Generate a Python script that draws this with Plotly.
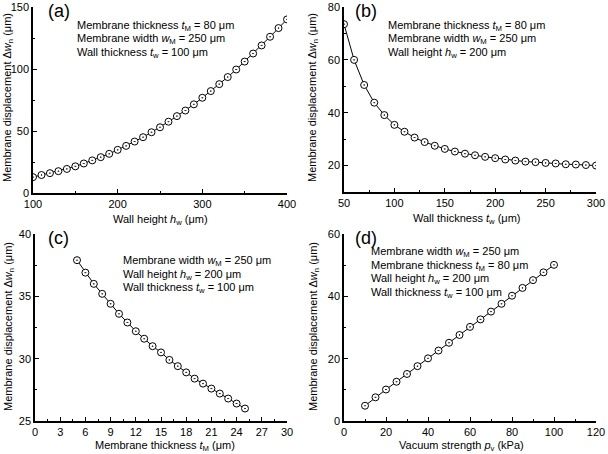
import plotly.graph_objects as go

# (a) wall height vs displacement
wall_height = list(range(100, 401, 10))
disp_a = [12.8, 14.5, 16.0, 17.6, 19.4, 21.5, 23.8, 26.3, 28.9, 31.6, 34.8,
          38.0, 41.5, 45.0, 49.0, 53.0, 57.5, 62.0, 66.5, 71.5, 76.8,
          82.2, 87.8, 93.5, 99.6, 106.0, 112.5, 119.0, 126.0, 133.0, 140.0]

# (b) wall thickness vs displacement
wall_thick = list(range(50, 301, 10))
disp_b = [73.5, 60.0, 50.5, 43.8, 39.1, 35.4, 32.8, 30.6, 28.9, 27.5, 26.3,
          25.3, 24.5, 23.9, 23.3, 22.8, 22.3, 21.9, 21.5, 21.3, 21.0,
          20.8, 20.5, 20.4, 20.2, 20.0]

# (c) membrane thickness vs displacement
memb_thick = list(range(5, 26))
disp_c = [37.9, 36.9, 36.0, 35.2, 34.4, 33.6, 32.9, 32.2, 31.6, 31.0, 30.5,
          29.9, 29.4, 28.9, 28.4, 28.0, 27.6, 27.2, 26.8, 26.4, 26.0]

# (d) vacuum strength vs displacement
vacuum = list(range(10, 101, 5))
disp_d = [4.9, 7.6, 10.1, 12.6, 15.1, 17.6, 20.1, 22.6, 25.1, 27.6, 30.2,
          32.6, 35.1, 37.6, 40.2, 42.7, 45.2, 47.7, 50.1]

W, H = 608, 454
FONT = "Liberation Sans, Arial, sans-serif"


def px_x(p):
    return p / W


def px_y(p):
    return 1 - p / H


panels = [
    # x, y, xdomain px, ydomain px, xrange, xdtick, yrange, ydtick
    (wall_height, disp_a, (33, 287), (7, 193), [100, 400], 100, [0, 150], 50),
    (wall_thick, disp_b, (344, 596), (7, 192), [50, 300], 50, [10, 80], 20),
    (memb_thick, disp_c, (35, 287), (234, 421), [0, 30], 3, [25, 40], 5),
    (vacuum, disp_d, (344, 596), (234, 421), [0, 120], 20, [0, 60], 20),
]

fig = go.Figure()
layout = {}
for i, (xs, ys, xd, yd, xr, xdt, yr, ydt) in enumerate(panels, start=1):
    sfx = "" if i == 1 else str(i)
    fig.add_trace(go.Scatter(
        x=xs, y=ys, mode="lines+markers",
        xaxis="x" + sfx, yaxis="y" + sfx,
        line=dict(color="black", width=1),
        marker=dict(symbol="circle-dot", size=7, color="white",
                    line=dict(color="black", width=1)),
        showlegend=False,
    ))
    common = dict(showline=True, linecolor="black", linewidth=1.5,
                  ticks="inside", ticklen=4, tickcolor="black",
                  showgrid=False, zeroline=False, automargin=False,
                  tickfont=dict(size=11, color="black", family=FONT))
    layout["xaxis" + sfx] = dict(
        domain=[px_x(xd[0]), px_x(xd[1])], range=xr, dtick=xdt, tick0=0,
        anchor="y" + sfx,
        minor=dict(ticks="inside", ticklen=2.5, dtick=xdt / 2, tick0=0,
                   tickcolor="black", showgrid=False),
        **common)
    layout["yaxis" + sfx] = dict(
        domain=[px_y(yd[1]), px_y(yd[0])], range=yr, dtick=ydt, tick0=0,
        anchor="x" + sfx,
        minor=dict(ticks="inside", ticklen=2.5, dtick=ydt / 2, tick0=0,
                   tickcolor="black", showgrid=False),
        **common)

fig.update_layout(**layout)

ytitle = "Membrane displacement Δ<i>w</i><sub>n</sub> (μm)"
annots = [
    # axis titles
    dict(x=px_x(8), y=px_y(98), text=ytitle, textangle=-90),
    dict(x=px_x(313), y=px_y(98), text=ytitle, textangle=-90),
    dict(x=px_x(9), y=px_y(327), text=ytitle, textangle=-90),
    dict(x=px_x(314), y=px_y(327), text=ytitle, textangle=-90),
    dict(x=px_x(160), y=px_y(220), text="Wall height <i>h</i><sub>w</sub> (μm)"),
    dict(x=px_x(466), y=px_y(219), text="Wall thickness <i>t</i><sub>w</sub> (μm)"),
    dict(x=px_x(165), y=px_y(446), text="Membrane thickness <i>t</i><sub>M</sub> (μm)"),
    dict(x=px_x(462), y=px_y(446), text="Vacuum strength <i>p</i><sub>v</sub> (kPa)"),
]
for a in annots:
    a.update(xref="paper", yref="paper", showarrow=False,
             xanchor="center", yanchor="middle",
             font=dict(size=11, color="black", family=FONT))
    fig.add_annotation(**a)

labels = [("(a)", 46, 11), ("(b)", 353, 11), ("(c)", 46, 238), ("(d)", 353, 238)]
for t, x, y in labels:
    fig.add_annotation(x=px_x(x), y=px_y(y), xref="paper", yref="paper",
                       text=t, showarrow=False, xanchor="left", yanchor="middle",
                       font=dict(size=18, color="black", family=FONT))

notes = [
    (75, 26, ["Membrane thickness <i>t</i><sub>M</sub> = 80 μm",
              "Membrane width <i>w</i><sub>M</sub> = 250 μm",
              "Wall thickness <i>t</i><sub>w</sub> = 100 μm"]),
    (386, 26, ["Membrane thickness <i>t</i><sub>M</sub> = 80 μm",
               "Membrane width <i>w</i><sub>M</sub> = 250 μm",
               "Wall height <i>h</i><sub>w</sub> = 200 μm"]),
    (121, 261, ["Membrane width <i>w</i><sub>M</sub> = 250 μm",
                "Wall height <i>h</i><sub>w</sub> = 200 μm",
                "Wall thickness <i>t</i><sub>w</sub> = 100 μm"]),
    (369, 252, ["Membrane width <i>w</i><sub>M</sub> = 250 μm",
                "Membrane thickness <i>t</i><sub>M</sub> = 80 μm",
                "Wall height <i>h</i><sub>w</sub> = 200 μm",
                "Wall thickness <i>t</i><sub>w</sub> = 100 μm"]),
]
for x, y, lines in notes:
    for k, line in enumerate(lines):
        fig.add_annotation(x=px_x(x), y=px_y(y + k * 13.5), xref="paper", yref="paper",
                           text=line, showarrow=False, xanchor="left", yanchor="middle",
                           font=dict(size=11, color="black", family=FONT))

fig.update_layout(
    width=W, height=H,
    margin=dict(l=0, r=0, t=0, b=0),
    plot_bgcolor="white", paper_bgcolor="white",
    font=dict(family=FONT, size=11, color="black"),
)

# page body has a default 8px margin; drop it so the figure sits at the window corner
fig.write_html("out.html", config={"displayModeBar": False},
               post_script="document.body.style.margin='0';")
